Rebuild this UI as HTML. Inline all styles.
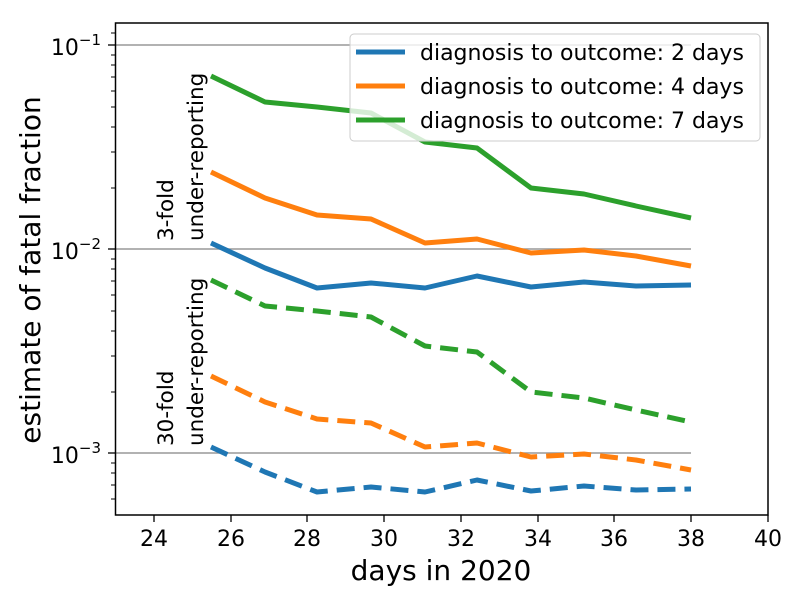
<!DOCTYPE html><html><head><style>body{margin:0;background:#fff}svg{font-family:"DejaVu Sans","Liberation Sans",sans-serif}</style></head><body>
<svg width="800" height="600" xmlns="http://www.w3.org/2000/svg">
<g stroke="#999" stroke-width="1.5"><line x1="115" y1="45" x2="691" y2="45"/><line x1="115" y1="249" x2="691" y2="249"/><line x1="115" y1="453" x2="691" y2="453"/></g>
<g fill="none" stroke-width="5" stroke-linejoin="round">
<polyline stroke="#2ca02c" points="211,76 265,102 317,107 371,113 425,142 477,148 531,188 584,194 636,206 691,218"/>
<polyline stroke="#ff7f0e" points="211,172 265,198 317,215 371,219 425,243 477,239 531,253 584,250 636,256 691,266"/>
<polyline stroke="#1f77b4" points="211,243 265,268 317,288 371,283 425,288 477,276 531,287 584,282 636,286 691,285"/>
<g stroke-dasharray="18,9">
<polyline stroke="#2ca02c" points="211,280 265,306 317,311 371,317 425,346 477,352 531,392 584,398 636,410 691,422"/>
<polyline stroke="#ff7f0e" points="211,376 265,402 317,419 371,423 425,447 477,443 531,457 584,454 636,460 691,470"/>
<polyline stroke="#1f77b4" points="211,447 265,472 317,492 371,487 425,492 477,480 531,491 584,486 636,490 691,489"/>
</g></g>
<rect x="115.5" y="23" width="652.5" height="492" fill="none" stroke="#000" stroke-width="1.5"/>
<g stroke="#000" stroke-width="1.3">
<line x1="108" y1="45" x2="115" y2="45"/><line x1="108" y1="249" x2="115" y2="249"/><line x1="108" y1="453" x2="115" y2="453"/>
<g stroke-width="1">
<line x1="111" y1="33" x2="115" y2="33"/>
<line x1="111" y1="188" x2="115" y2="188"/><line x1="111" y1="152" x2="115" y2="152"/><line x1="111" y1="127" x2="115" y2="127"/><line x1="111" y1="107" x2="115" y2="107"/><line x1="111" y1="91" x2="115" y2="91"/><line x1="111" y1="77" x2="115" y2="77"/><line x1="111" y1="65" x2="115" y2="65"/><line x1="111" y1="55" x2="115" y2="55"/>
<line x1="111" y1="392" x2="115" y2="392"/><line x1="111" y1="356" x2="115" y2="356"/><line x1="111" y1="331" x2="115" y2="331"/><line x1="111" y1="311" x2="115" y2="311"/><line x1="111" y1="295" x2="115" y2="295"/><line x1="111" y1="281" x2="115" y2="281"/><line x1="111" y1="269" x2="115" y2="269"/><line x1="111" y1="259" x2="115" y2="259"/>
<line x1="111" y1="499" x2="115" y2="499"/><line x1="111" y1="485" x2="115" y2="485"/><line x1="111" y1="473" x2="115" y2="473"/><line x1="111" y1="463" x2="115" y2="463"/>
</g>
<line x1="154" y1="515" x2="154" y2="522"/><line x1="231" y1="515" x2="231" y2="522"/><line x1="307" y1="515" x2="307" y2="522"/><line x1="384" y1="515" x2="384" y2="522"/><line x1="461" y1="515" x2="461" y2="522"/><line x1="538" y1="515" x2="538" y2="522"/><line x1="614" y1="515" x2="614" y2="522"/><line x1="691" y1="515" x2="691" y2="522"/><line x1="768" y1="515" x2="768" y2="522"/>
</g>
<g font-size="22" text-anchor="middle" fill="#000">
<text x="154" y="546">24</text><text x="231" y="546">26</text><text x="307" y="546">28</text><text x="384" y="546">30</text><text x="461" y="546">32</text><text x="538" y="546">34</text><text x="614" y="546">36</text><text x="691" y="546">38</text><text x="768" y="546">40</text>
</g>
<g font-size="22" text-anchor="end"><text x="101" y="55">10<tspan font-size="15" dy="-10">−1</tspan></text><text x="101" y="259">10<tspan font-size="15" dy="-10">−2</tspan></text><text x="101" y="463">10<tspan font-size="15" dy="-10">−3</tspan></text></g>
<text x="441" y="580" font-size="28" text-anchor="middle">days in 2020</text>
<text transform="translate(40,270) rotate(-90)" font-size="28" text-anchor="middle">estimate of fatal fraction</text>
<g font-size="21.5"><text transform="translate(173,241) rotate(-90)">3-fold</text><text transform="translate(203,241) rotate(-90)">under-reporting</text>
<text transform="translate(173,446) rotate(-90)">30-fold</text><text transform="translate(203,446) rotate(-90)">under-reporting</text></g>
<rect x="350" y="34" width="410" height="107" rx="4" fill="#fff" fill-opacity="0.8" stroke="#ccc"/>
<g stroke-width="5"><line x1="356" y1="52" x2="405" y2="52" stroke="#1f77b4"/><line x1="356" y1="86" x2="405" y2="86" stroke="#ff7f0e"/><line x1="356" y1="120" x2="405" y2="120" stroke="#2ca02c"/></g>
<g font-size="22"><text x="420" y="60">diagnosis to outcome: 2 days</text><text x="420" y="94">diagnosis to outcome: 4 days</text><text x="420" y="128">diagnosis to outcome: 7 days</text></g>
</svg></body></html>
